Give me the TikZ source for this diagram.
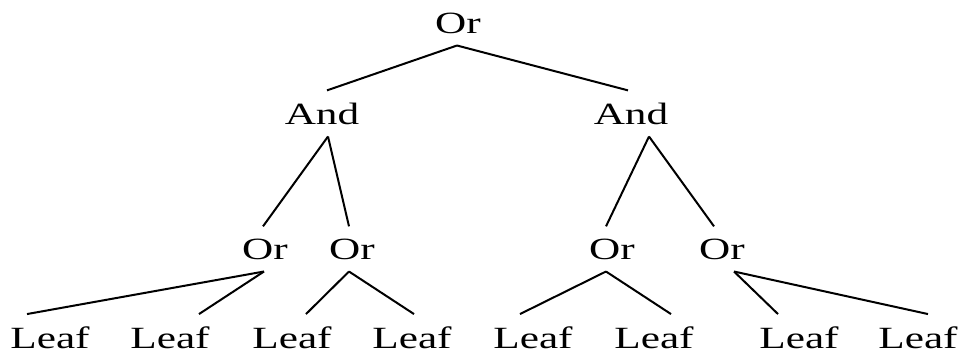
\documentclass[tikz,border=0pt]{standalone}
\usepackage{fontspec}
\usepackage{graphicx}
\setmainfont{Liberation Serif}
\newcommand{\widetext}[1]{\scalebox{1.4}[1]{#1}}
\tikzset{
  lbl/.style={font=\fontsize{31}{31}\selectfont, inner xsep=0pt, inner ysep=12bp, anchor=base},
  edge/.style={draw=black, line width=2bp}
}
\begin{document}
\begin{tikzpicture}[x=1bp,y=-1bp]
\useasboundingbox (0,0) rectangle (961,356);
% labels, placed at their baselines
\node[lbl] (root) at (458,33) {\widetext{Or}};
\node[lbl] (andL) at (322,124) {\widetext{And}};
\node[lbl] (andR) at (631,124) {\widetext{And}};
\node[lbl] (or1) at (265,259) {\widetext{Or}};
\node[lbl] (or2) at (352,259) {\widetext{Or}};
\node[lbl] (or3) at (612,259) {\widetext{Or}};
\node[lbl] (or4) at (722,259) {\widetext{Or}};
\node[lbl] (l1) at (50,348) {\widetext{Leaf}};
\node[lbl] (l2) at (170,348) {\widetext{Leaf}};
\node[lbl] (l3) at (292,348) {\widetext{Leaf}};
\node[lbl] (l4) at (412,348) {\widetext{Leaf}};
\node[lbl] (l5) at (533,348) {\widetext{Leaf}};
\node[lbl] (l6) at (654,348) {\widetext{Leaf}};
\node[lbl] (l7) at (799,348) {\widetext{Leaf}};
\node[lbl] (l8) at (918,348) {\widetext{Leaf}};
% connectors
\draw[edge] ([xshift=-1bp]root.south) -- ([xshift=5bp]andL.north);
\draw[edge] ([xshift=-1bp]root.south) -- ([xshift=-3bp]andR.north);
\draw[edge] ([xshift=6bp]andL.south) -- ([xshift=-2bp]or1.north);
\draw[edge] ([xshift=6bp]andL.south) -- ([xshift=-3bp]or2.north);
\draw[edge] ([xshift=18bp]andR.south) -- ([xshift=-6bp]or3.north);
\draw[edge] ([xshift=18bp]andR.south) -- ([xshift=-8bp]or4.north);
\draw[edge] ([xshift=-1bp]or1.south) -- ([xshift=-23bp]l1.north);
\draw[edge] ([xshift=-1bp]or1.south) -- ([xshift=29bp]l2.north);
\draw[edge] ([xshift=-3bp]or2.south) -- ([xshift=14bp]l3.north);
\draw[edge] ([xshift=-3bp]or2.south) -- ([xshift=2bp]l4.north);
\draw[edge] ([xshift=-6bp]or3.south) -- ([xshift=-13bp]l5.north);
\draw[edge] ([xshift=-6bp]or3.south) -- ([xshift=17bp]l6.north);
\draw[edge] ([xshift=12bp]or4.south) -- ([xshift=-21bp]l7.north);
\draw[edge] ([xshift=12bp]or4.south) -- ([xshift=10bp]l8.north);
\end{tikzpicture}
\end{document}
